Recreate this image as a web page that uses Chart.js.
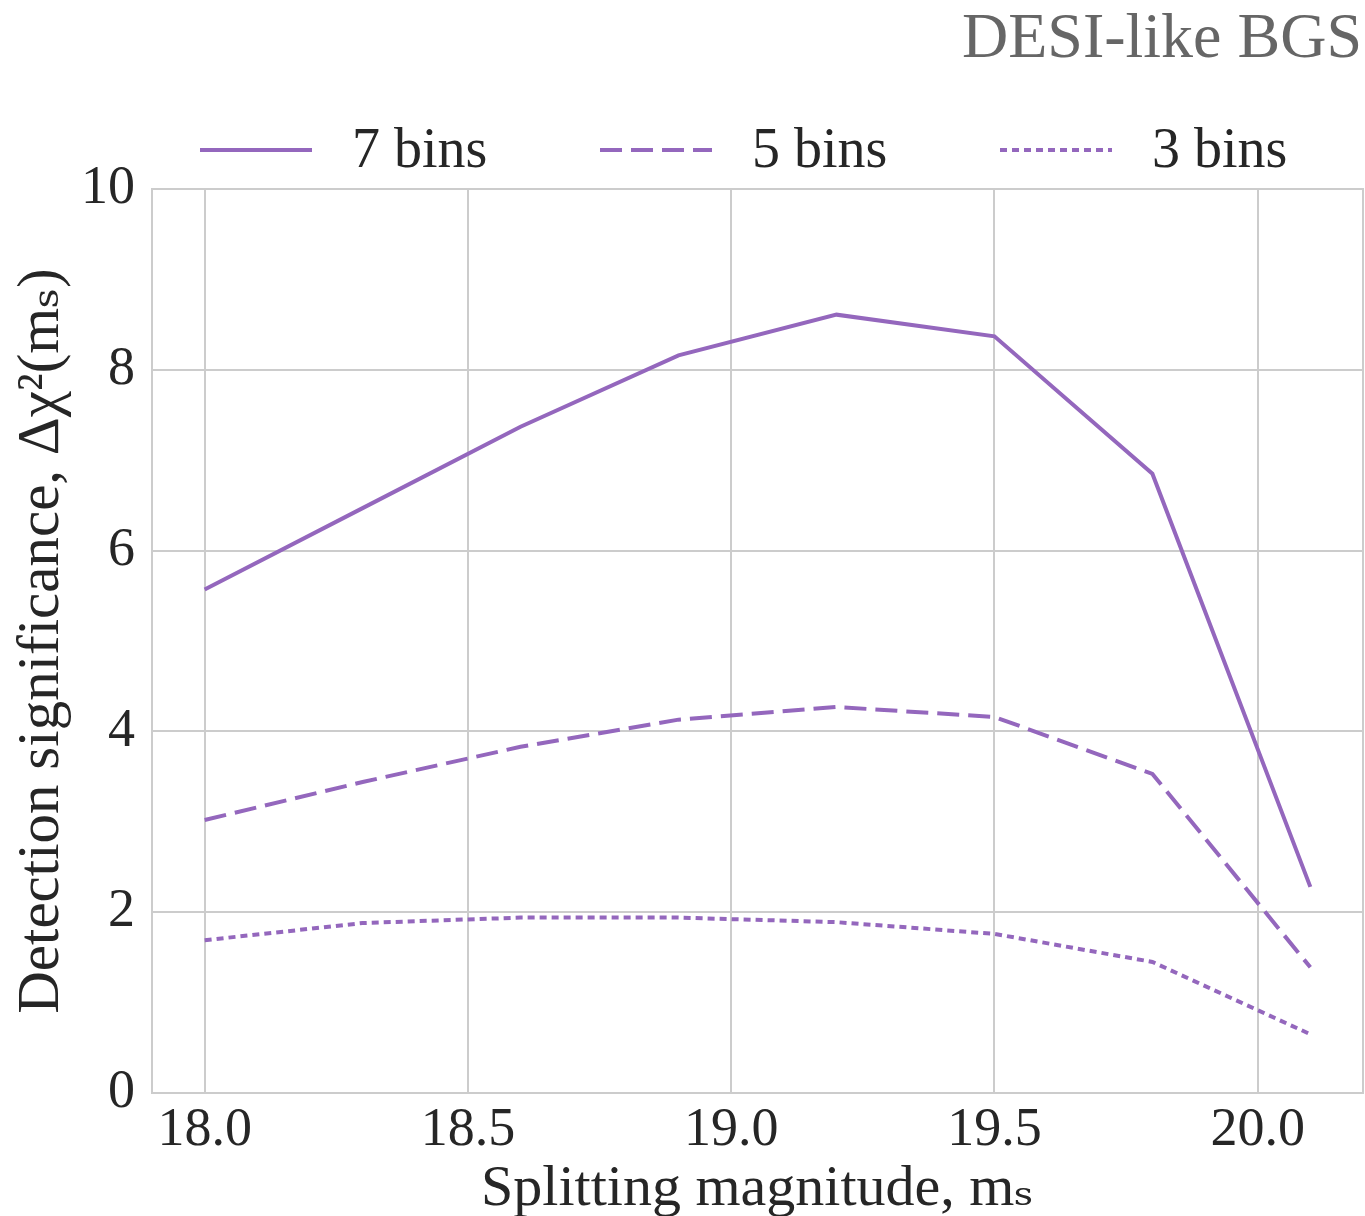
<!DOCTYPE html>
<html>
<head>
<meta charset="utf-8">
<script src="https://cdn.jsdelivr.net/npm/chart.js@4/dist/chart.umd.min.js"></script>
<style>
  html, body { margin: 0; padding: 0; background: #fff; }
  #chart { display: block; }
</style>
</head>
<body>
<canvas id="chart" width="1365" height="1216"></canvas>
<script>
// splitting magnitudes
const magnitudes = [18.0, 18.3, 18.6, 18.9, 19.2, 19.5, 19.8, 20.1];
// delta chi^2 per number of bins
const bins7 = [5.57, 6.47, 7.37, 8.16, 8.61, 8.37, 6.85, 2.28];
const bins5 = [3.02, 3.44, 3.83, 4.13, 4.27, 4.16, 3.53, 1.39];
const bins3 = [1.69, 1.88, 1.94, 1.94, 1.89, 1.76, 1.45, 0.65];
const seriesLabels = ['7 bins', '5 bins', '3 bins'];
const xTicks = [18.0, 18.5, 19.0, 19.5, 20.0];

const FONT = "'Liberation Serif', 'DejaVu Serif', serif";
const PURPLE = '#9467bd';
const TEXT = '#262626';
const GRID = '#cccccc';

const toPoints = (ys) => magnitudes.map((x, i) => ({ x: x, y: ys[i] }));

// title, legend and the box around the axes
const decorations = {
  id: 'decorations',
  afterDraw(chart) {
    const ctx = chart.ctx;
    const area = chart.chartArea;
    ctx.save();
    ctx.strokeStyle = GRID;
    ctx.lineWidth = 2;
    ctx.strokeRect(area.left, area.top, area.right - area.left, area.bottom - area.top);

    ctx.fillStyle = '#666666';
    ctx.font = '64px ' + FONT;
    ctx.textAlign = 'right';
    ctx.textBaseline = 'middle';
    ctx.fillText('DESI-like BGS', 1362, 40);

    const legendY = 150;
    chart.data.datasets.forEach((ds, i) => {
      const x0 = 200 + i * 400;
      ctx.strokeStyle = ds.borderColor;
      ctx.lineWidth = ds.borderWidth;
      ctx.setLineDash(ds.borderDash || []);
      ctx.beginPath();
      ctx.moveTo(x0, legendY);
      ctx.lineTo(x0 + 112, legendY);
      ctx.stroke();
      ctx.setLineDash([]);
      ctx.fillStyle = TEXT;
      ctx.font = '56px ' + FONT;
      ctx.textAlign = 'left';
      ctx.fillText(ds.label, x0 + 152, legendY + 2);
    });
    ctx.restore();
  }
};

new Chart(document.getElementById('chart'), {
  type: 'line',
  data: {
    datasets: [
      { label: seriesLabels[0], data: toPoints(bins7), borderColor: PURPLE, borderWidth: 4, borderDash: [] },
      { label: seriesLabels[1], data: toPoints(bins5), borderColor: PURPLE, borderWidth: 4, borderDash: [22, 9] },
      { label: seriesLabels[2], data: toPoints(bins3), borderColor: PURPLE, borderWidth: 4, borderDash: [7, 5] }
    ]
  },
  options: {
    responsive: false,
    animation: false,
    layout: { padding: { top: 189, right: 2, bottom: 0, left: 0 } },
    elements: {
      point: { radius: 0 },
      line: { tension: 0, fill: false, borderCapStyle: 'butt' }
    },
    plugins: {
      legend: { display: false },
      tooltip: { enabled: false }
    },
    scales: {
      x: {
        type: 'linear',
        min: 17.9,
        max: 20.2,
        afterBuildTicks: (scale) => { scale.ticks = xTicks.map(v => ({ value: v })); },
        afterFit: (scale) => { scale.height = 123; },
        grid: { color: GRID, lineWidth: 2, drawTicks: false },
        border: { display: false },
        ticks: {
          color: TEXT,
          font: { family: FONT, size: 54 },
          padding: 5,
          maxRotation: 0,
          callback: (v) => Number(v).toFixed(1)
        },
        title: {
          display: true,
          text: 'Splitting magnitude, mₛ',
          color: TEXT,
          font: { family: FONT, size: 58, lineHeight: 0.9 },
          padding: { top: 0, bottom: 0 }
        }
      },
      y: {
        min: 0,
        max: 10,
        afterFit: (scale) => { scale.width = 152; },
        grid: { color: GRID, lineWidth: 2, drawTicks: false },
        border: { display: false },
        ticks: {
          stepSize: 2,
          color: TEXT,
          font: { family: FONT, size: 54 },
          padding: 17
        },
        title: {
          display: true,
          text: 'Detection significance, Δχ²(mₛ)',
          color: TEXT,
          font: { family: FONT, size: 59, lineHeight: 1.2 },
          padding: { top: 7, bottom: 0 }
        }
      }
    }
  },
  plugins: [decorations]
});
</script>
</body>
</html>
